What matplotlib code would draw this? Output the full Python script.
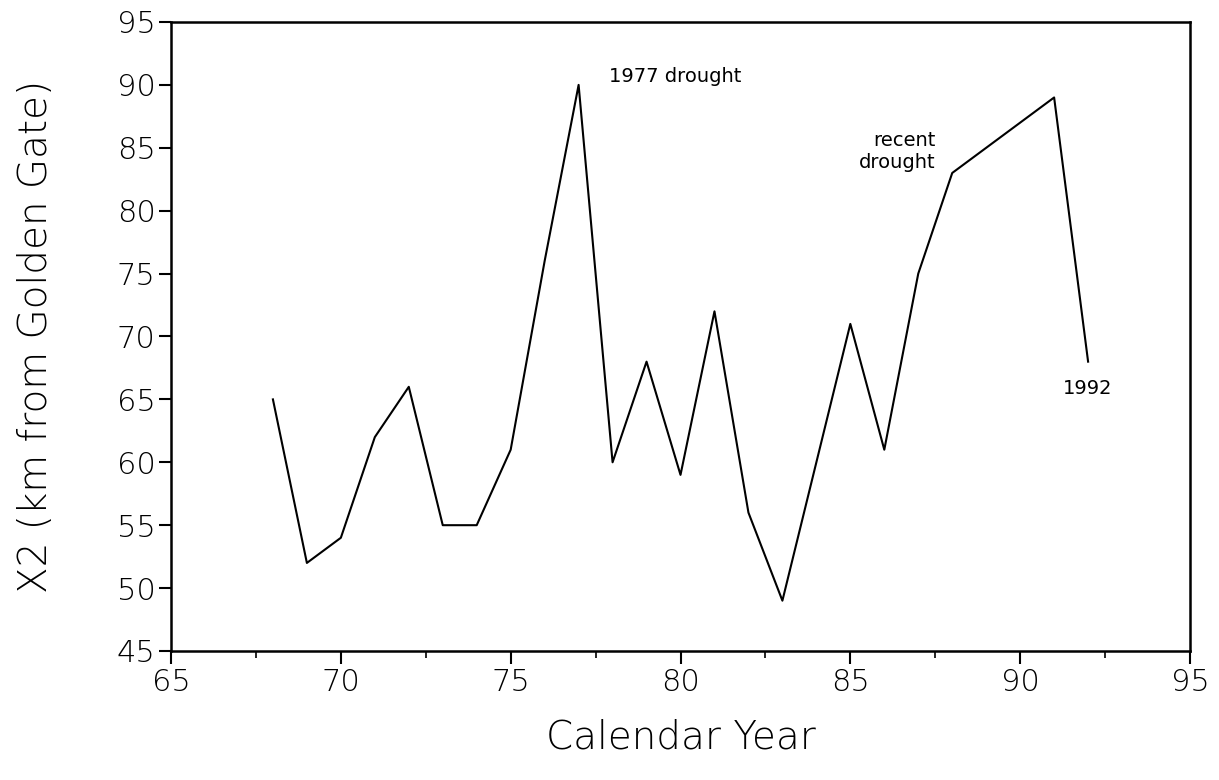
import matplotlib
matplotlib.use("Agg")
import matplotlib.pyplot as plt
from matplotlib.ticker import MultipleLocator

# X2 position by calendar year
years = [68, 69, 70, 71, 72, 73, 74, 75, 76, 77, 78, 79, 80,
         81, 82, 83, 84, 85, 86, 87, 88, 89, 90, 91, 92]
x2_km = [65, 52, 54, 62, 66, 55, 55, 61, 76, 90, 60, 68, 59,
         72, 56, 49, 60, 71, 61, 75, 83, 85, 87, 89, 68]

x_ticks = [65, 70, 75, 80, 85, 90, 95]
y_ticks = [45, 50, 55, 60, 65, 70, 75, 80, 85, 90, 95]

plt.rcParams['font.family'] = ['DejaVu Sans']

fig = plt.figure(figsize=(12.19, 7.8), dpi=100)
ax = fig.add_axes([0.1403, 0.1654, 0.8359, 0.8064])

ax.plot(years, x2_km, color='black', linewidth=1.5)

ax.set_xlim(65, 95)
ax.set_ylim(45, 95)
ax.set_xticks(x_ticks)
ax.set_yticks(y_ticks)
ax.xaxis.set_minor_locator(MultipleLocator(2.5))
ax.tick_params(axis='both', which='major', direction='out', length=9,
               width=1.5, labelsize=22, pad=3)
ax.tick_params(axis='y', which='major', pad=2)
ax.tick_params(axis='x', which='minor', direction='out', length=5, width=1.2)
ax.tick_params(axis='y', which='minor', left=False)
for lbl in ax.get_xticklabels() + ax.get_yticklabels():
    lbl.set_fontweight('light')
for s in ax.spines.values():
    s.set_linewidth(1.8)

ax.set_xlabel('Calendar Year', fontsize=28, fontweight='light')
ax.set_ylabel('X2 (km from Golden Gate)', fontsize=28, fontweight='light')
ax.xaxis.set_label_coords(0.5, -0.108)
ax.yaxis.set_label_coords(-0.114, 0.5)

# annotations
ax.text(77.9, 90.7, '1977 drought', fontsize=14, va='center', ha='left')
ax.text(87.5, 84.7, 'recent\ndrought', fontsize=14, va='center', ha='right',
        multialignment='right', linespacing=1.25)
ax.text(92.0, 65.9, '1992', fontsize=14, va='center', ha='center')

fig.savefig('out.png', dpi=100)
